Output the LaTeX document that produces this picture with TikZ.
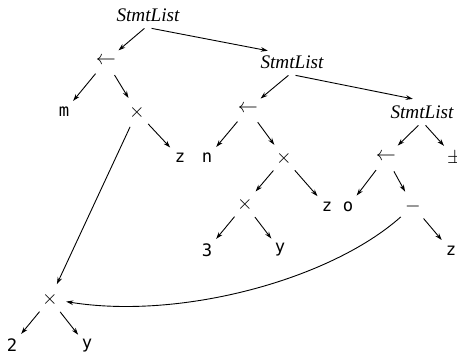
\documentclass[tikz,border=0pt]{standalone}
\usepackage{fontspec}
\newfontfamily\leaffont{DejaVu Sans Mono}
\newfontfamily\listfont{Liberation Serif}
\usetikzlibrary{arrows.meta,shapes.geometric}

\begin{document}
\begin{tikzpicture}[
x=0.5pt, y=-0.5pt,
   SL/.style = {ellipse, inner sep=0pt, minimum height=13pt,% list nodes
                font=\fontsize{9.6}{11}\listfont\itshape},
   OP/.style = {circle, inner sep=0pt, minimum size=16pt,% operators
                font=\fontsize{10}{11}\selectfont},
   LF/.style = {circle, inner sep=0pt, minimum size=14pt,% leaves
                font=\fontsize{8.6}{10}\leaffont},
    E/.style = {-{Stealth[length=3.5pt,width=2.3pt]}, line width=0.45pt},
                    ]
\useasboundingbox (0,0) rectangle (457,354);
\clip (0,0) rectangle (457,354);
\node[SL] (s1) at (148,15) {StmtList};
\node[SL] (s2) at (292,62) {StmtList};
\node[SL] (s3) at (422,112) {StmtList};
\foreach \n/\x/\y/\t in {a1/106/61/\leftarrow, m1/137/112/\times,
                         a2/248/109/\leftarrow, m2/284/158/\times,
                         m3/245/204/\times, a3/386/157/\leftarrow,
                         d3/413/206/-, p3/455/158/\pm, mb/50/299/\times}% <-- operators
    \node[OP] (\n) at (\x,\y) {$\t$};
\foreach \n/\x/\y/\t in {lm/64/112/m, lz1/180/158/z, ln/207/158/n,
                         lz2/327/207/z, lo/348/207/o, l3/207/250/3,
                         ly1/280/250/y, lz3/451/251/z, l2/12/345/2,
                         ly2/87/346/y}% <-- leaves
    \node[LF] (\n) at (\x,\y) {\t};
\foreach \a/\b in {s1.-105/a1, s1.-75/s2.155, s2.-105/a2, s2.-75/s3.125,
                   s3.-105/a3, s3.-75/p3, a1/lm, a1/m1, m1/mb, m1/lz1,
                   a2/ln, a2/m2, m2/m3, m2/lz2, m3/l3, m3/ly1,
                   a3/lo, a3/d3, d3/lz3, mb/l2, mb/ly2}
    \draw[E] (\a) -- (\b);
\draw[E] (d3) .. controls (330,280) and (180,320) .. (mb);
\end{tikzpicture}
\end{document}
